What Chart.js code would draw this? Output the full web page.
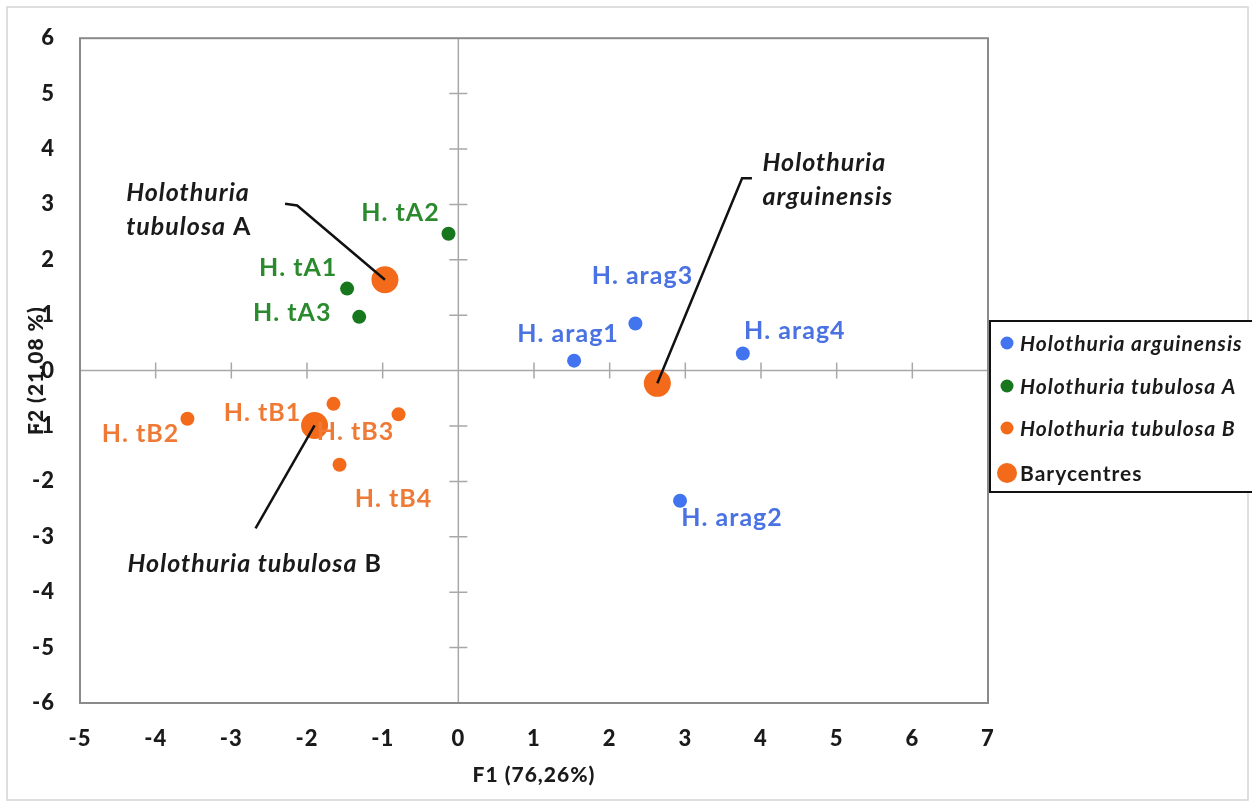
<!DOCTYPE html>
<html lang="en">
<head>
<meta charset="UTF-8">
<title>PCA - Holothuria</title>
<script src="https://cdn.jsdelivr.net/npm/chart.js"></script>
<style>
  html, body { margin: 0; padding: 0; background: #fff; }
  canvas { display: block; }
</style>
</head>
<body>
<canvas id="pca" width="1252" height="802"></canvas>
<script>
// --- data ---
const seriesNames = ['Holothuria arguinensis', 'Holothuria tubulosa A', 'Holothuria tubulosa B', 'Barycentres'];

const araLabels = ['H. arag1', 'H. arag2', 'H. arag3', 'H. arag4'];
const araF1 = [1.53, 2.93, 2.34, 3.76];
const araF2 = [0.18, -2.35, 0.85, 0.31];

const tubALabels = ['H. tA1', 'H. tA2', 'H. tA3'];
const tubAF1 = [-1.47, -0.13, -1.31];
const tubAF2 = [1.48, 2.47, 0.97];

const tubBLabels = ['H. tB1', 'H. tB2', 'H. tB3', 'H. tB4'];
const tubBF1 = [-1.65, -3.58, -0.79, -1.57];
const tubBF2 = [-0.60, -0.87, -0.79, -1.70];

const baryF1 = [2.63, -0.97, -1.90];
const baryF2 = [-0.23, 1.64, -0.99];

const xTicks = [-5, -4, -3, -2, -1, 0, 1, 2, 3, 4, 5, 6, 7];
const yTicks = [-6, -5, -4, -3, -2, -1, 0, 1, 2, 3, 4, 5, 6];
const xTitle = 'F1 (76,26%)';
const yTitle = 'F2 (21.08 %)';

// callouts: text pieces [text, italic], anchor (data units), leader elbow, barycentre index
const callouts = [
  { lines: [[['Holothuria', true]], [['tubulosa', true], [' A', false]]], at: [-4.39, 3.21], align: 'left',
    path: [[-2.29, 3.01], [-2.13, 2.98]], bary: 1 },
  { lines: [[['Holothuria', true], [' ', true], ['tubulosa', true], [' B', false]]], at: [-2.69, -3.49], align: 'center',
    path: [[-2.68, -2.85]], bary: 2 },
  { lines: [[['Holothuria', true]], [['arguinensis', true]]], at: [4.02, 3.74], align: 'left',
    path: [[3.88, 3.47], [3.75, 3.47]], bary: 0 }
];

// --- styling ---
const BLUE = '#4374ef', GREEN = '#17771d', ORANGE = '#f26a1a';
const labelColors = ['#4a72e2', '#2b8a2e', '#ef7a36'];
const FONT = 'Lato, "Liberation Sans", sans-serif';

// pixel offsets of each point label from its point
const labelOffset = {
  'H. arag1': [-6, -27], 'H. arag2': [52, 17], 'H. arag3': [7, -48], 'H. arag4': [52, -22],
  'H. tA1': [-49, -21], 'H. tA2': [-48, -21], 'H. tA3': [-67, -4],
  'H. tB1': [-71, 9], 'H. tB2': [-47, 15], 'H. tB3': [-43, 18], 'H. tB4': [54, 34]
};

function pts(xs, ys) { return xs.map((x, i) => ({ x: x, y: ys[i] })); }

const overlay = {
  id: 'overlay',
  beforeDraw(chart) {
    chart.ctx.letterSpacing = '1px';
  },
  beforeDatasetsDraw(chart) {
    const { ctx, chartArea: a, scales: { x, y } } = chart;
    ctx.save();
    // axes through zero
    const x0 = x.getPixelForValue(0), y0 = y.getPixelForValue(0);
    ctx.strokeStyle = '#a8a8a8';
    ctx.lineWidth = 1.5;
    ctx.beginPath();
    ctx.moveTo(a.left, y0); ctx.lineTo(a.right, y0);
    ctx.moveTo(x0, a.top); ctx.lineTo(x0, a.bottom);
    xTicks.forEach(v => {
      if (v === xTicks[0] || v === xTicks[xTicks.length - 1] || v === 0) return;
      const px = x.getPixelForValue(v);
      ctx.moveTo(px, y0 - 8); ctx.lineTo(px, y0 + 8);
    });
    yTicks.forEach(v => {
      if (v === yTicks[0] || v === yTicks[yTicks.length - 1] || v === 0) return;
      const py = y.getPixelForValue(v);
      ctx.moveTo(x0 - 9, py); ctx.lineTo(x0 + 9, py);
    });
    ctx.stroke();
    // plot area frame
    ctx.strokeStyle = '#8a8a8a';
    ctx.lineWidth = 2;
    ctx.strokeRect(a.left, a.top, a.right - a.left, a.bottom - a.top);
    ctx.restore();
  },
  afterDatasetsDraw(chart) {
    const { ctx, scales: { x, y } } = chart;
    ctx.save();
    // point labels
    ctx.font = 'bold 25px ' + FONT;
    ctx.textAlign = 'center';
    ctx.textBaseline = 'middle';
    for (let d = 0; d < 3; d++) {
      const ds = chart.data.datasets[d];
      ctx.fillStyle = labelColors[d];
      ds.data.forEach((p, i) => {
        const off = labelOffset[ds.pointLabels[i]];
        ctx.fillText(ds.pointLabels[i], x.getPixelForValue(p.x) + off[0], y.getPixelForValue(p.y) + off[1]);
      });
    }
    // callout leader lines
    const bary = chart.data.datasets[3].data;
    ctx.strokeStyle = '#111';
    ctx.lineWidth = 2.5;
    callouts.forEach(c => {
      ctx.beginPath();
      c.path.forEach((q, i) => {
        const px = x.getPixelForValue(q[0]), py = y.getPixelForValue(q[1]);
        if (i === 0) ctx.moveTo(px, py); else ctx.lineTo(px, py);
      });
      const b = bary[c.bary];
      ctx.lineTo(x.getPixelForValue(b.x), y.getPixelForValue(b.y));
      ctx.stroke();
    });
    // callout texts
    ctx.fillStyle = '#1a1a1a';
    ctx.textBaseline = 'middle';
    ctx.textAlign = 'left';
    callouts.forEach(c => {
      const ax = x.getPixelForValue(c.at[0]);
      let ly = y.getPixelForValue(c.at[1]);
      c.lines.forEach(line => {
        let w = 0;
        line.forEach(seg => {
          ctx.font = (seg[1] ? 'italic ' : '') + 'bold 25px ' + FONT;
          w += ctx.measureText(seg[0]).width;
        });
        let cx = c.align === 'center' ? ax - w / 2 : ax;
        line.forEach(seg => {
          ctx.font = (seg[1] ? 'italic ' : '') + 'bold 25px ' + FONT;
          ctx.fillText(seg[0], cx, ly);
          cx += ctx.measureText(seg[0]).width;
        });
        ly += 34;
      });
    });
    ctx.restore();
  },
  afterDraw(chart) {
    const { ctx } = chart;
    ctx.save();
    // outer frame
    ctx.strokeStyle = '#d4d4d4';
    ctx.lineWidth = 1.5;
    ctx.strokeRect(7, 7, 1241, 793);
    // legend
    ctx.fillStyle = '#fff';
    ctx.fillRect(990, 321, 270, 171);
    ctx.strokeStyle = '#111';
    ctx.lineWidth = 2;
    ctx.strokeRect(990, 321, 270, 171);
    const rows = [343, 386, 428, 473];
    ctx.textAlign = 'left';
    ctx.textBaseline = 'middle';
    chart.data.datasets.forEach((ds, i) => {
      ctx.fillStyle = ds.backgroundColor;
      ctx.beginPath();
      ctx.arc(1007, rows[i], i === 3 ? 10 : 6.5, 0, Math.PI * 2);
      ctx.fill();
      ctx.fillStyle = '#1a1a1a';
      ctx.font = (i === 3 ? '' : 'italic ') + 'bold 21px ' + FONT;
      ctx.fillText(ds.label, 1020, rows[i] + 1);
    });
    ctx.restore();
  }
};

const tickFont = { family: FONT, size: 22, weight: 900 };
const titleFont = { family: FONT, size: 21, weight: 900 };

new Chart(document.getElementById('pca'), {
  type: 'scatter',
  data: {
    datasets: [
      { label: seriesNames[0], data: pts(araF1, araF2), pointLabels: araLabels,
        backgroundColor: BLUE, borderColor: BLUE, pointRadius: 7, pointBorderWidth: 0 },
      { label: seriesNames[1], data: pts(tubAF1, tubAF2), pointLabels: tubALabels,
        backgroundColor: GREEN, borderColor: GREEN, pointRadius: 7, pointBorderWidth: 0 },
      { label: seriesNames[2], data: pts(tubBF1, tubBF2), pointLabels: tubBLabels,
        backgroundColor: ORANGE, borderColor: ORANGE, pointRadius: 7, pointBorderWidth: 0 },
      { label: seriesNames[3], data: pts(baryF1, baryF2),
        backgroundColor: ORANGE, borderColor: ORANGE, pointRadius: 13.5, pointBorderWidth: 0 }
    ]
  },
  options: {
    responsive: false,
    animation: false,
    layout: { padding: { left: 8, right: 264, top: 37, bottom: 9 } },
    plugins: { legend: { display: false }, tooltip: { enabled: false } },
    scales: {
      x: {
        type: 'linear', position: 'bottom', min: xTicks[0], max: xTicks[xTicks.length - 1],
        afterBuildTicks: s => { s.ticks = xTicks.map(v => ({ value: v })); },
        afterFit: s => { s.height = 90; },
        grid: { display: false, drawTicks: false },
        border: { display: false },
        ticks: { padding: 23, color: '#1a1a1a', font: tickFont },
        title: { display: true, text: xTitle, color: '#1a1a1a', font: titleFont, padding: { top: 0, bottom: 5 } }
      },
      y: {
        type: 'linear', position: 'left', min: yTicks[0], max: yTicks[yTicks.length - 1],
        afterBuildTicks: s => { s.ticks = yTicks.map(v => ({ value: v })); },
        afterFit: s => { s.width = 72; },
        grid: { display: false, drawTicks: false },
        border: { display: false },
        ticks: { padding: 25, color: '#1a1a1a', font: tickFont },
        title: { display: true, text: yTitle, color: '#1a1a1a', font: titleFont, padding: { top: 16, bottom: 0 } }
      }
    }
  },
  plugins: [overlay]
});
</script>
</body>
</html>
